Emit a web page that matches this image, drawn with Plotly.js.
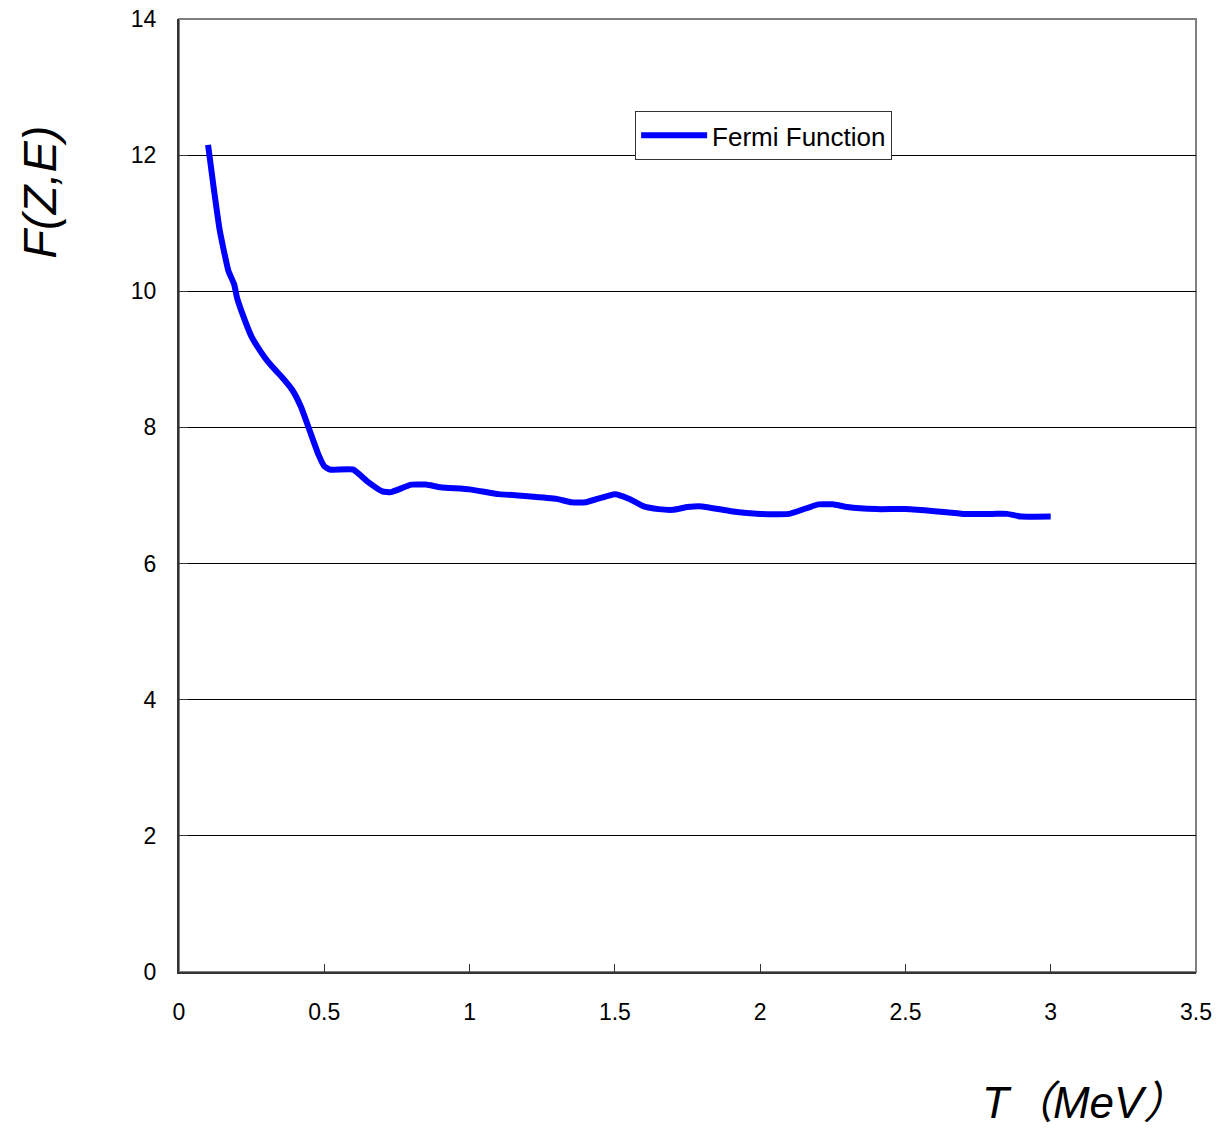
<!DOCTYPE html>
<html>
<head>
<meta charset="utf-8">
<script src="https://cdn.plot.ly/plotly-3.0.1.min.js"></script>
<style>html,body{margin:0;padding:0;background:#fff;}#chart{width:1217px;height:1128px;}</style>
</head>
<body>
<div id="chart"></div>
<script>
const energyT = [0.1,0.12,0.14,0.17,0.19,0.2,0.22,0.25,0.28,0.3,0.33,0.35,0.39,0.42,0.45,0.48,0.5,0.52,0.6,0.65,0.7,0.73,0.8,0.85,0.9,1.0,1.1,1.2,1.3,1.35,1.4,1.5,1.55,1.6,1.65,1.7,1.75,1.8,1.9,2.0,2.1,2.2,2.25,2.3,2.4,2.5,2.6,2.7,2.8,2.85,2.9,3.0];
const fermiF = [12.15,11.5,10.9,10.3,10.1,9.9,9.65,9.33,9.12,9.0,8.85,8.76,8.55,8.3,7.95,7.6,7.43,7.38,7.38,7.2,7.06,7.05,7.16,7.16,7.12,7.09,7.02,6.99,6.95,6.9,6.9,7.02,6.95,6.84,6.8,6.79,6.83,6.84,6.77,6.73,6.73,6.87,6.87,6.83,6.8,6.8,6.77,6.73,6.73,6.73,6.69,6.69];
const xTicks = [0,0.5,1,1.5,2,2.5,3,3.5];
const xTickText = ['0','0.5','1','1.5','2','2.5','3','3.5'];
const yTicks = [0,2,4,6,8,10,12,14];
const yTickText = ['0','2','4','6','8','10','12','14'];
const seriesName = 'Fermi Function';
const xTitle = 'T（MeV）';
const yTitle = 'F(Z,E)';

const font = 'Arial, "Liberation Sans", sans-serif';
const trace = {
  x: energyT, y: fermiF, type: 'scatter', mode: 'lines', name: seriesName,
  line: {color: '#0000FF', width: 6, shape: 'spline', smoothing: 0.4}
};
const layout = {
  width: 1217, height: 1128,
  margin: {l: 179, r: 21, t: 19, b: 156},
  paper_bgcolor: '#fff', plot_bgcolor: '#fff',
  font: {family: font, color: '#000', size: 23},
  showlegend: true,
  legend: {x: 0.4485, y: 0.9035, xanchor: 'left', yanchor: 'top', bordercolor: '#333', borderwidth: 1,
    bgcolor: '#fff', font: {size: 26, family: font}, itemwidth: 66, tracegroupgap: 0},
  xaxis: {range: [0, 3.5], tickvals: xTicks, ticktext: xTickText, ticks: 'inside', ticklen: 8,
    tickcolor: '#333', showgrid: false, zeroline: false, showline: true, linecolor: '#333', linewidth: 2,
    ticklabelstandoff: 18, tickfont: {size: 23}, fixedrange: true},
  yaxis: {range: [0, 14], tickvals: yTicks, ticktext: yTickText, ticks: 'inside', ticklen: 9,
    tickcolor: '#333', showgrid: true, gridcolor: '#000', gridwidth: 1, zeroline: false, showline: true,
    linecolor: '#333', linewidth: 2, ticklabelstandoff: 16, tickfont: {size: 23}, fixedrange: true},
  shapes: [
    {type: 'rect', xref: 'paper', yref: 'paper', x0: 0, x1: 1, y0: 0, y1: 1,
     line: {color: '#808080', width: 2}, fillcolor: 'rgba(0,0,0,0)', layer: 'below'}
  ],
  annotations: [
    {text: yTitle, xref: 'paper', yref: 'paper', x: -0.137, y: 0.8185, xanchor: 'center', yanchor: 'middle',
     textangle: -90, showarrow: false, font: {size: 47, family: font, style: 'italic'}},
    {text: xTitle, xref: 'paper', yref: 'paper', x: 0.993, y: -0.137, xanchor: 'right', yanchor: 'middle',
     showarrow: false, font: {size: 44, family: font + ', "Noto Sans CJK JP"', style: 'italic'}}
  ]
};
Plotly.newPlot('chart', [trace], layout, {displayModeBar: false, staticPlot: true});
</script>
</body>
</html>
